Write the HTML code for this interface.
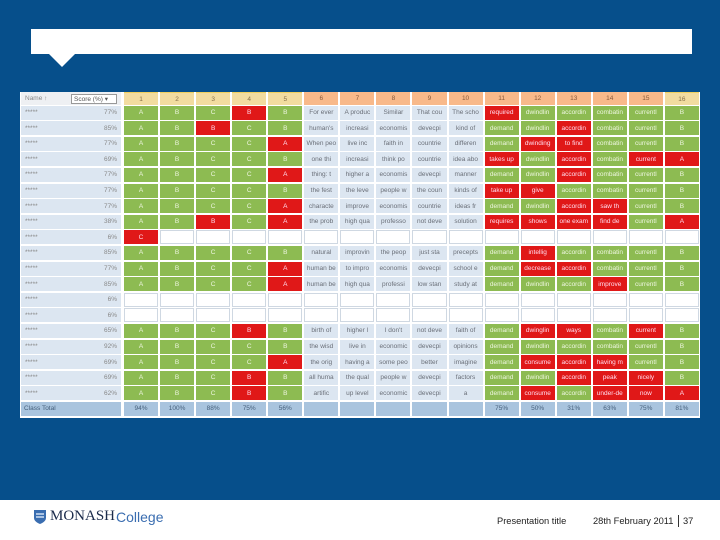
<!DOCTYPE html>
<html><head><meta charset="utf-8">
<style>
body{margin:0;width:720px;height:540px;position:relative;overflow:hidden;background:#fff;font-family:"Liberation Sans",sans-serif}
#bg{position:absolute;left:0;top:0;width:720px;height:500px;background:#064f8b}
#callout{position:absolute;left:31px;top:29px;width:661px;height:25px;background:#fff}
#notch{position:absolute;left:49px;top:54px;width:0;height:0;border-left:13px solid transparent;border-right:13px solid transparent;border-top:13px solid #fff}
#tbl{position:absolute;left:20px;top:92px;width:680px;height:326px;background:#fff}
.c{position:absolute;box-sizing:border-box;font-size:6.5px;display:flex;align-items:center;justify-content:center;white-space:nowrap;overflow:hidden;color:#666}
.g{background:#8dbb52;color:#eef6e0}
.r{background:#e01818;color:#fde}
.t{background:#dce6f1;color:#6a6f78}
.w{background:#fff;border:1px solid #cfd8e2}
.n{background:#dce6f1;color:#888;justify-content:space-between;padding:0 4px}
.tot{background:#a9c4de;color:#46607c}
.hy{background:#f2dca0;color:#887048;border-top:1px solid #f0d060}
.ho{background:#f8b98a;color:#8a5a3a}
.foot{position:absolute;top:516px;font-size:9.3px;color:#222}
</style></head><body>
<div id="bg"></div>
<div id="callout"></div>
<div id="notch"></div>
<div id="tbl"></div>
<div style="position:absolute;left:33px;top:508px;display:flex;align-items:center">
<svg width="14" height="16" viewBox="0 0 14 16"><path d="M1 1h12v8c0 4-6 6-6 6s-6-2-6-6z" fill="#3a6db0"/><path d="M3 5h8M3 8h8" stroke="#cfe0f4" stroke-width="1.5"/></svg>
<span style="font-family:'Liberation Serif',serif;font-size:15px;color:#1a2a4a;margin-left:3px">MONASH</span><span style="font-size:14px;color:#3a6db0;margin-left:1px">College</span></div>
<div class="foot" style="left:497px">Presentation title</div>
<div class="foot" style="left:593px">28th February 2011</div>
<div style="position:absolute;left:678px;top:515px;width:1px;height:12px;background:#333"></div>
<div class="foot" style="left:683px">37</div>
<script>
const scores=["77%","85%","77%","69%","77%","77%","77%","38%","6%","85%","77%","85%","6%","6%","65%","92%","69%","69%","62%"];
const rowsData=[
"A B C B* B|For ever|A produc|Similar|That cou|The scho|required*|dwindlin|accordin|combatin|currentl|B",
"A B B* C B|human's|increasi|economis|devecpi|kind of|demand|dwindlin|accordin*|combatin|currentl|B",
"A B C C A*|When peo|live inc|faith in|countrie|differen|demand|dwinding*|to find*|combatin|currentl|B",
"A B C C B|one thi|increasi|think po|countrie|idea abo|takes up*|dwindlin|accordin*|combatin|current*|A*",
"A B C C A*|thing: t|higher a|economis|devecpi|manner|demand|dwindlin|accordin*|combatin|currentl|B",
"A B C C B|the fest|the leve|people w|the coun|kinds of|take up*|give*|accordin|combatin|currentl|B",
"A B C C A*|characte|improve|economis|countrie|ideas fr|demand|dwindlin|accordin*|saw th*|currentl|B",
"A B B* C A*|the prob|high qua|professo|not deve|solution|requires*|shows*|one exam*|find de*|currentl|A*",
"C* _ _ _ _|_|_|_|_|_|_|_|_|_|_|_",
"A B C C B|natural|improvin|the peop|just sta|precepts|demand|intellig*|accordin|combatin|currentl|B",
"A B C C A*|human be|to impro|economis|devecpi|school e|demand|decrease*|accordin*|combatin|currentl|B",
"A B C C A*|human be|high qua|professi|low stan|study at|demand|dwindlin|accordin|improve*|currentl|B",
"_ _ _ _ _|_|_|_|_|_|_|_|_|_|_|_",
"_ _ _ _ _|_|_|_|_|_|_|_|_|_|_|_",
"A B C B* B|birth of|higher l|I don't|not deve|faith of|demand|dwinglin*|ways*|combatin|current*|B",
"A B C C B|the wisd|live in|economic|devecpi|opinions|demand|dwindlin|accordin|combatin|currentl|B",
"A B C C A*|the orig|having a|some peo|better|imagine|demand|consume*|accordin*|having m*|currentl|B",
"A B C B* B|all huma|the qual|people w|devecpi|factors|demand|dwindlin|accordin*|peak*|nicely*|B",
"A B C B* B|artific|up level|economic|devecpi|a|demand|consume*|accordin|under-de*|now*|A*"];
const totals=["94%","100%","88%","75%","56%","","","","","","75%","50%","31%","63%","75%","81%"];
const T=document.getElementById('tbl');
const X0=103,CW=36.06,Y0=13.5,RH=15.6;
function cell(x,y,w,h,cls,txt,name,inter){
 const d=document.createElement('div');d.className='c '+cls;
 d.style.left=x+'px';d.style.top=y+'px';d.style.width=w+'px';d.style.height=h+'px';
 if(cls.indexOf('n')===0){d.innerHTML=txt;}else d.textContent=txt;
 
 
 T.appendChild(d);return d;}
const hd=cell(1,0,100,13,'','', 'header-name-score',false);
hd.style.background='#eef0f3';hd.style.justifyContent='space-between';hd.style.padding='0 4px';
hd.innerHTML='<span style="color:#888">Name &#8593;</span><span style="border:1px solid #999;background:#fff;padding:0 2px;width:40px;color:#555">Score (%) &#9662;</span>';
for(let j=0;j<16;j++){
 const cls=j<5||j==15?'hy':'ho';
 cell(X0+j*CW+1,0,CW-2,13,cls,String(j+1),'header-q'+(j+1),false);
}
rowsData.forEach((row,i)=>{
 const y=Y0+i*RH;
 cell(1,y,100,RH-1.5,'n','<span>*****</span><span>'+scores[i]+'</span>','student-row-'+(i+1),false);
 const parts=row.split('|');const vals=parts[0].split(' ').concat(parts.slice(1));
 vals.forEach((v,j)=>{
  let cls,txt=v.replace('*','');
  if(v==='_'){cls='w';txt='';}
  else if(v.endsWith('*'))cls='r';
  else cls=(j>=5&&j<10)?'t':'g';
  cell(X0+j*CW+1,y,CW-2,RH-1.5,cls,txt,'answer-r'+(i+1)+'-q'+(j+1),false);
 });
});
const yt=Y0+19*RH;
cell(1,yt,100,RH-1.5,'tot','','class-total-label',false).innerHTML='<span style="margin-right:auto;padding-left:3px">Class Total</span>';
totals.forEach((v,j)=>{cell(X0+j*CW+1,yt,CW-2,RH-1.5,'tot',v,'class-total-q'+(j+1),false);});
</script>
</body></html>
